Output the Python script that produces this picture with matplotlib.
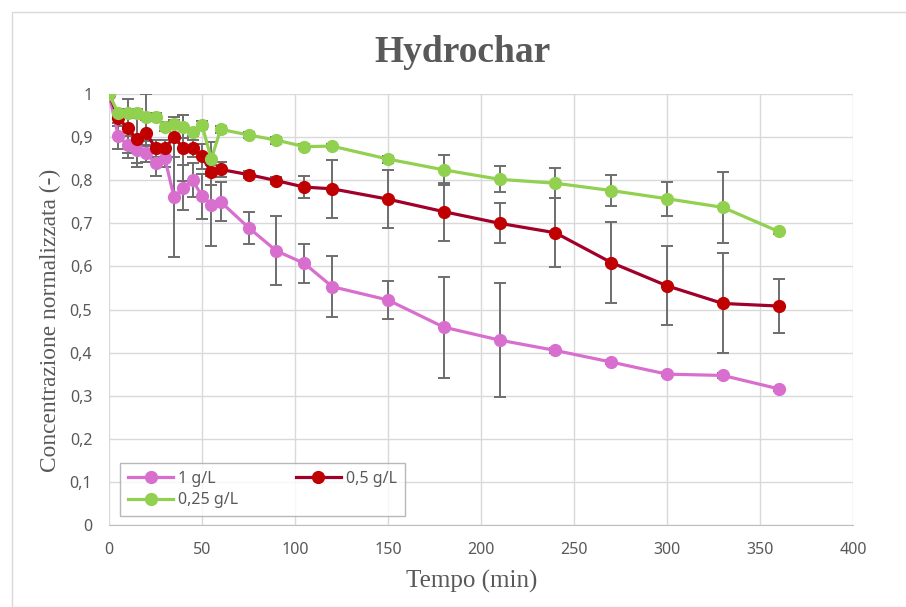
import matplotlib
matplotlib.use("Agg")
import numpy as np
import matplotlib.pyplot as plt
from matplotlib.patches import Rectangle
from matplotlib.ticker import FuncFormatter

# time points (min)
tempo = [0, 5, 10, 15, 20, 25, 30, 35, 40, 45, 50, 55, 60, 75, 90, 105, 120,
         150, 180, 210, 240, 270, 300, 330, 360]

# 1 g/L
c_1 = [1.0, 0.902, 0.882, 0.87, 0.862, 0.839, 0.851, 0.760, 0.783, 0.800, 0.763, 0.742, 0.750,
       0.690, 0.636, 0.607, 0.553, 0.522, 0.459, 0.429, 0.405, 0.378, 0.350, 0.347, 0.316]
err_1 = [0, 0.03, 0.02, 0.03, 0.02, 0.03, 0.02, 0.138, 0.053, 0.04, 0.052, 0.094, 0.045,
         0.037, 0.08, 0.045, 0.07, 0.045, 0.117, 0.133, 0.005, 0.005, 0.005, 0.005, 0.005]

# 0,5 g/L
c_05 = [1.0, 0.945, 0.920, 0.895, 0.910, 0.874, 0.874, 0.900, 0.874, 0.874, 0.855, 0.818, 0.825,
        0.813, 0.799, 0.784, 0.780, 0.756, 0.727, 0.700, 0.678, 0.609, 0.555, 0.514, 0.508]
err_05 = [0, 0.02, 0.068, 0.065, 0.03, 0.02, 0.02, 0.047, 0.077, 0.02, 0.03, 0.03, 0.018,
          0.008, 0.008, 0.025, 0.067, 0.068, 0.067, 0.046, 0.08, 0.093, 0.092, 0.116, 0.062]

# 0,25 g/L
c_025 = [1.0, 0.955, 0.955, 0.955, 0.946, 0.947, 0.924, 0.930, 0.924, 0.912, 0.928, 0.849, 0.918,
         0.905, 0.893, 0.878, 0.879, 0.849, 0.824, 0.802, 0.793, 0.776, 0.757, 0.737, 0.681]
err_025 = [0, 0.01, 0.01, 0.01, 0.055, 0.01, 0.01, 0.01, 0.027, 0.01, 0.01, 0.04, 0.008,
           0.006, 0.008, 0.005, 0.005, 0.008, 0.034, 0.03, 0.035, 0.036, 0.039, 0.082, 0.005]

series = [
    ("1 g/L", c_1, err_1, "#D86FCF", "#D86FCF"),
    ("0,5 g/L", c_05, err_05, "#A0002A", "#C00000"),
    ("0,25 g/L", c_025, err_025, "#92D050", "#92D050"),
]

gray = "#595959"
fig = plt.figure(figsize=(9.06, 6.07), dpi=100)
ax = fig.add_axes([109 / 906, 1 - 525 / 607, 744 / 906, 431 / 607])

# outer chart frame
fig.patches.append(Rectangle((12 / 906, 0), 1, 1 - 12 / 607, transform=fig.transFigure,
                             fill=False, edgecolor="#D9D9D9", linewidth=1))

for label, vals, errs, lc, mc in series:
    ax.errorbar(tempo, vals, yerr=errs, fmt="none", ecolor="#6E6E6E",
                elinewidth=1.4, capsize=4, capthick=1.4, zorder=2)
handles = []
for label, vals, errs, lc, mc in series:
    h, = ax.plot(tempo, vals, color=lc, linewidth=2.3, marker="o", markersize=8.5,
                 markerfacecolor=mc, markeredgecolor=mc, label=label, zorder=3)
    handles.append(h)

ax.set_xlim(0, 400)
ax.set_ylim(0, 1)
ax.set_xticks(np.arange(0, 401, 50))
ax.set_yticks(np.arange(0, 1.01, 0.1))
ax.yaxis.set_major_formatter(FuncFormatter(lambda v, p: ("%g" % round(v, 1)).replace(".", ",")))
ax.grid(True, color="#D9D9D9", linewidth=1)
ax.set_axisbelow(True)
for s in ["top", "right", "left"]:
    ax.spines[s].set_visible(False)
ax.spines["bottom"].set_color("#BFBFBF")
ax.tick_params(length=0, labelsize=11.5, colors=gray, pad=12)
for t in ax.get_xticklabels() + ax.get_yticklabels():
    t.set_fontfamily("Noto Sans")

# title centred on the whole chart area, not on the plot
fig.text(462 / 906, 1 - 52 / 607, "Hydrochar", fontfamily="Liberation Serif",
         fontweight="bold", fontsize=27, color=gray, ha="center", va="center")
ax.set_xlabel("Tempo (min)", fontfamily="Liberation Serif", fontsize=18, color=gray)
ax.set_ylabel("Concentrazione normalizzata (-)", fontfamily="Liberation Serif",
              fontsize=16.8, color=gray)
ax.xaxis.set_label_coords((472 - 109) / 744, -0.105)
ax.yaxis.set_label_coords(-0.064, 0.475)

# row-wise order like the original legend
order = [0, 2, 1]
leg = ax.legend([handles[i] for i in order], [series[i][0] for i in order],
                loc="lower left", bbox_to_anchor=(0.015, 0.02), borderaxespad=0,
                ncol=2, frameon=True, fancybox=False, edgecolor="#A6A6A6",
                columnspacing=3.6, handlelength=2.8, handletextpad=0.35,
                borderpad=0.5, labelspacing=0.35,
                prop={"family": "Noto Sans", "size": 11.5})
for t in leg.get_texts():
    t.set_color(gray)

fig.savefig("out.png", dpi=100)
